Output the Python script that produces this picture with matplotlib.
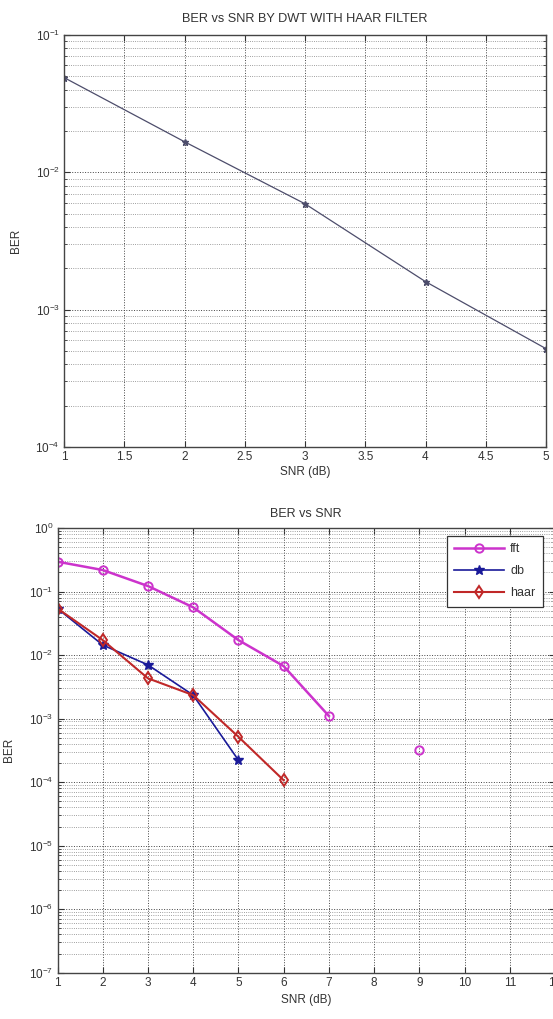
import numpy as np
import matplotlib
matplotlib.use('Agg')
import matplotlib.pyplot as plt
from matplotlib.ticker import LogLocator, MultipleLocator, NullFormatter

plt.rcParams['font.family'] = ['Liberation Sans', 'DejaVu Sans']
plt.rcParams['font.size'] = 8.5
plt.rcParams['text.color'] = '#333333'
plt.rcParams['axes.labelcolor'] = '#333333'
plt.rcParams['xtick.color'] = '#333333'
plt.rcParams['ytick.color'] = '#333333'

# top plot: haar only
snr_top = [1, 2, 3, 4, 5]
ber_haar_top = [0.049, 0.0167, 0.0059, 0.0016, 0.00052]

# bottom plot: comparison
snr = [1, 2, 3, 4, 5, 6, 7, 8, 9, 10, 11, 12]
ber_fft = [0.295, 0.218, 0.122, 0.0564, 0.0172, 0.0067, 0.0011, np.nan, 0.00032, np.nan, np.nan, np.nan]
ber_db = [0.054, 0.0144, 0.0070, 0.00234, 0.000222, np.nan, np.nan, np.nan, np.nan, np.nan, np.nan, np.nan]
ber_haar = [0.054, 0.0172, 0.0043, 0.00234, 0.000517, 0.000107, np.nan, np.nan, np.nan, np.nan, np.nan, np.nan]

W, H = 553, 1019
fig = plt.figure(figsize=(W / 100, H / 100), dpi=100)


def style_axes(ax):
    ax.set_yscale('log')
    ax.yaxis.set_major_locator(LogLocator(base=10, numticks=20))
    ax.yaxis.set_minor_locator(LogLocator(base=10, subs=np.arange(2, 10), numticks=20))
    ax.yaxis.set_minor_formatter(NullFormatter())
    ax.grid(True, which='major', linestyle=':', color='#444444', linewidth=0.7)
    ax.grid(True, which='minor', axis='y', linestyle=':', color='#808080', linewidth=0.6)
    ax.tick_params(which='both', direction='in', top=True, right=True)
    ax.tick_params(which='major', length=4, pad=3)
    ax.tick_params(which='minor', length=2)
    for s in ax.spines.values():
        s.set_color('#444444')
        s.set_linewidth(1.0)


# top axes
ax1 = fig.add_axes([64 / W, 1 - 447 / H, (546 - 64) / W, (447 - 35) / H])
ax1.plot(snr_top, ber_haar_top, '-*', color='#4d4d6b', linewidth=0.9, markersize=5)
style_axes(ax1)
ax1.set_xlim(1, 5)
ax1.set_ylim(1e-4, 1e-1)
ax1.xaxis.set_major_locator(MultipleLocator(0.5))
ax1.xaxis.set_major_formatter(plt.FuncFormatter(lambda v, p: '%g' % v))
ax1.set_title('BER vs SNR BY DWT WITH HAAR FILTER', pad=9, fontsize=9.2)
ax1.set_xlabel('SNR (dB)', labelpad=2)
ax1.set_ylabel('BER', labelpad=10)

# bottom axes
ax2 = fig.add_axes([57.5 / W, 1 - 972.7 / H, (555 - 57.5) / W, (972.7 - 528) / H])
ax2.plot(snr, ber_fft, '-o', color='#cc33cc', linewidth=1.8, markersize=6,
         markerfacecolor='none', markeredgewidth=1.4, label='fft')
ax2.plot(snr, ber_db, '-*', color='#1a1a99', linewidth=1.2, markersize=7, label='db')
ax2.plot(snr, ber_haar, '-d', color='#c02828', linewidth=1.5, markersize=6,
         markerfacecolor='none', markeredgewidth=1.4, label='haar')
style_axes(ax2)
ax2.set_xlim(1, 12)
ax2.set_ylim(1e-7, 1)
ax2.xaxis.set_major_locator(MultipleLocator(1))
ax2.set_title('BER vs SNR', pad=8, fontsize=9)
ax2.set_xlabel('SNR (dB)', labelpad=4)
ax2.set_ylabel('BER', labelpad=10)
leg = ax2.legend(loc='upper right', bbox_to_anchor=(543 / W, 1 - 536 / H),
                 bbox_transform=fig.transFigure, borderaxespad=0, handlelength=4.0,
                 fancybox=False, framealpha=1, edgecolor='#333333', labelspacing=0.8,
                 handletextpad=0.5, borderpad=0.6, fontsize=9)
leg.get_frame().set_linewidth(0.9)

fig.savefig('out.png', dpi=100)
